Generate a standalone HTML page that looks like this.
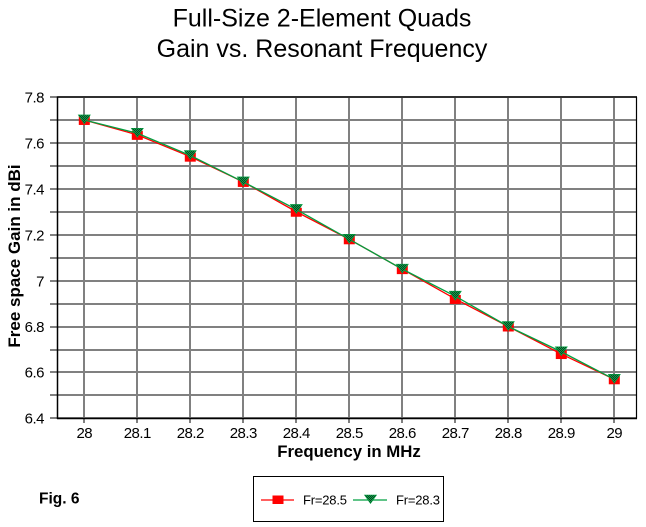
<!DOCTYPE html>
<html>
<head>
<meta charset="utf-8">
<style>
html,body{margin:0;padding:0;background:#fff;}
body{width:646px;height:527px;overflow:hidden;}
svg{display:block;}
text{font-family:"Liberation Sans",Arial,sans-serif;fill:#000;}
</style>
</head>
<body>
<svg width="646" height="527" viewBox="0 0 646 527" xmlns="http://www.w3.org/2000/svg">
<defs>
<pattern id="chk" width="2" height="2" patternUnits="userSpaceOnUse">
<rect width="2" height="2" fill="#1a9a4a"/>
<rect width="1" height="1" fill="#004a22"/>
<rect x="1" y="1" width="1" height="1" fill="#004a22"/>
</pattern>
</defs>
<rect width="646" height="527" fill="#fff"/>

<!-- Title -->
<text x="322" y="26.5" font-size="25" text-anchor="middle">Full-Size 2-Element Quads</text>
<text x="322" y="57" font-size="25" text-anchor="middle">Gain vs. Resonant Frequency</text>

<!-- gridlines -->
<g stroke="#808080" stroke-width="2">
<line x1="84" y1="97" x2="84" y2="423"/>
<line x1="137" y1="97" x2="137" y2="423"/>
<line x1="190" y1="97" x2="190" y2="423"/>
<line x1="243" y1="97" x2="243" y2="423"/>
<line x1="296" y1="97" x2="296" y2="423"/>
<line x1="349" y1="97" x2="349" y2="423"/>
<line x1="402" y1="97" x2="402" y2="423"/>
<line x1="455" y1="97" x2="455" y2="423"/>
<line x1="508" y1="97" x2="508" y2="423"/>
<line x1="561" y1="97" x2="561" y2="423"/>
<line x1="614" y1="97" x2="614" y2="423"/>

<line x1="50" y1="97" x2="637" y2="97"/>
<line x1="50" y1="120" x2="637" y2="120"/>
<line x1="50" y1="143" x2="637" y2="143"/>
<line x1="50" y1="166" x2="637" y2="166"/>
<line x1="50" y1="189" x2="637" y2="189"/>
<line x1="50" y1="212" x2="637" y2="212"/>
<line x1="50" y1="235" x2="637" y2="235"/>
<line x1="50" y1="258" x2="637" y2="258"/>
<line x1="50" y1="281" x2="637" y2="281"/>
<line x1="50" y1="304" x2="637" y2="304"/>
<line x1="50" y1="327" x2="637" y2="327"/>
<line x1="50" y1="350" x2="637" y2="350"/>
<line x1="50" y1="372" x2="637" y2="372"/>
<line x1="50" y1="395" x2="637" y2="395"/>
<line x1="50" y1="418" x2="637" y2="418"/>
</g>

<!-- frame -->
<g stroke="#000" fill="none">
<line x1="57.5" y1="97" x2="637" y2="97" stroke-width="1.2"/>
<line x1="636.5" y1="97" x2="636.5" y2="418.5" stroke-width="1.2"/>
<line x1="57.5" y1="96.5" x2="57.5" y2="419" stroke-width="1.5"/>
<line x1="57" y1="418.5" x2="637" y2="418.5" stroke-width="1.6"/>
</g>

<!-- Y tick labels -->
<g font-size="15" text-anchor="end" letter-spacing="-0.5">
<text x="44" y="102.5">7.8</text>
<text x="44" y="148.5">7.6</text>
<text x="44" y="194.5">7.4</text>
<text x="44" y="240.5">7.2</text>
<text x="44" y="286.5">7</text>
<text x="44" y="332">6.8</text>
<text x="44" y="377.5">6.6</text>
<text x="44" y="423.5">6.4</text>
</g>

<!-- X tick labels -->
<g font-size="15" text-anchor="middle" letter-spacing="-0.5">
<text x="84.3" y="438">28</text>
<text x="137.3" y="438">28.1</text>
<text x="190.3" y="438">28.2</text>
<text x="243.3" y="438">28.3</text>
<text x="296.3" y="438">28.4</text>
<text x="349.3" y="438">28.5</text>
<text x="402.3" y="438">28.6</text>
<text x="455.3" y="438">28.7</text>
<text x="508.3" y="438">28.8</text>
<text x="561.3" y="438">28.9</text>
<text x="614.3" y="438">29</text>
</g>

<!-- Axis titles -->
<text x="349" y="457" font-size="16.8" font-weight="bold" text-anchor="middle">Frequency in MHz</text>
<text transform="translate(20,256) rotate(-90)" x="0" y="0" font-size="17" font-weight="bold" text-anchor="middle">Free space Gain in dBi</text>

<!-- Red series -->
<polyline fill="none" stroke="#ff0000" stroke-width="1.3"
points="84.3,119.95 137.3,134.87 190.3,156.67 243.3,181.92 296.3,211.75 349.3,239.29 402.3,269.13 455.3,298.96 508.3,326.5 561.3,354.04 614.3,379.29"/>
<g fill="#ff0000">
<rect x="78.8" y="115.95" width="11" height="9"/>
<rect x="131.8" y="130.87" width="11" height="9"/>
<rect x="184.8" y="152.67" width="11" height="9"/>
<rect x="237.8" y="177.92" width="11" height="9"/>
<rect x="290.8" y="207.75" width="11" height="9"/>
<rect x="343.8" y="235.29" width="11" height="9"/>
<rect x="396.8" y="265.13" width="11" height="9"/>
<rect x="449.8" y="294.96" width="11" height="9"/>
<rect x="502.8" y="322.5" width="11" height="9"/>
<rect x="555.8" y="350.04" width="11" height="9"/>
<rect x="608.8" y="375.29" width="11" height="9"/>
</g>

<!-- Green series -->
<polyline fill="none" stroke="#00a040" stroke-width="1.3"
points="84.3,119.95 137.3,133.26 190.3,155.52 243.3,181.92 296.3,209.46 349.3,239.29 402.3,269.13 455.3,296.21 508.3,326.5 561.3,351.75 614.3,379.29"/>
<g fill="url(#chk)" stroke="#00a040" stroke-width="0.6">
<polygon points="78.3,114.95 90.3,114.95 84.3,123.95"/>
<polygon points="131.3,128.26 143.3,128.26 137.3,137.26"/>
<polygon points="184.3,150.52 196.3,150.52 190.3,159.52"/>
<polygon points="237.3,176.92 249.3,176.92 243.3,185.92"/>
<polygon points="290.3,204.46 302.3,204.46 296.3,213.46"/>
<polygon points="343.3,234.29 355.3,234.29 349.3,243.29"/>
<polygon points="396.3,264.13 408.3,264.13 402.3,273.13"/>
<polygon points="449.3,291.21 461.3,291.21 455.3,300.21"/>
<polygon points="502.3,321.5 514.3,321.5 508.3,330.5"/>
<polygon points="555.3,346.75 567.3,346.75 561.3,355.75"/>
<polygon points="608.3,374.29 620.3,374.29 614.3,383.29"/>
</g>

<!-- Fig label -->
<text x="39" y="503.5" font-size="15.5" font-weight="bold">Fig. 6</text>

<!-- Legend -->
<rect x="253.5" y="476.5" width="190" height="45" fill="#fff" stroke="#000" stroke-width="1"/>
<line x1="261" y1="500" x2="294" y2="500" stroke="#ff0000" stroke-width="1.3"/>
<rect x="272.5" y="495.5" width="11" height="8.5" fill="#ff0000"/>
<text x="303" y="504.5" font-size="13" letter-spacing="-0.2">Fr=28.5</text>
<line x1="353" y1="500" x2="387" y2="500" stroke="#00a040" stroke-width="1.3"/>
<polygon points="364.5,495 376.5,495 370.5,503.5" fill="url(#chk)" stroke="#00a040" stroke-width="0.6"/>
<text x="396" y="504.5" font-size="13" letter-spacing="-0.2">Fr=28.3</text>
</svg>
</body>
</html>
